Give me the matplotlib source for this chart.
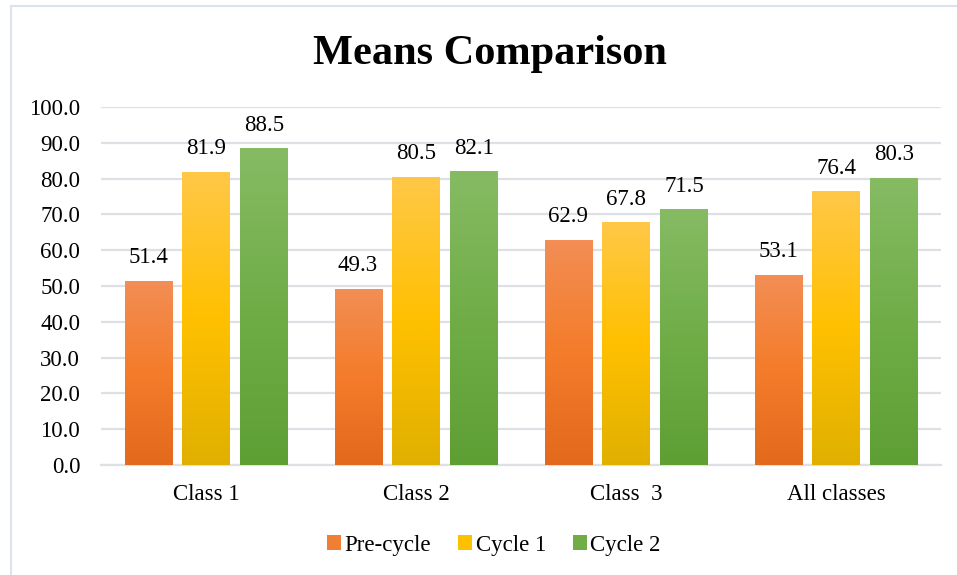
import numpy as np
import matplotlib
matplotlib.use("Agg")
import matplotlib.pyplot as plt
from matplotlib.colors import LinearSegmentedColormap
from matplotlib.patches import Patch
from matplotlib.lines import Line2D

categories = ["Class 1", "Class 2", "Class  3", "All classes"]
series_names = ["Pre-cycle", "Cycle 1", "Cycle 2"]
pre_cycle = [51.4, 49.3, 62.9, 53.1]
cycle_1 = [81.9, 80.5, 67.8, 76.4]
cycle_2 = [88.5, 82.1, 71.5, 80.3]
y_ticks = [0, 10, 20, 30, 40, 50, 60, 70, 80, 90, 100]

# top -> middle -> bottom shades for each series
gradients = [
    ["#F28E55", "#F47C2A", "#E3691D"],
    ["#FFC848", "#FFC000", "#E0B000"],
    ["#86BB64", "#70AD47", "#5E9F34"],
]
solid = ["#F07F35", "#FFC000", "#70AD47"]

plt.rcParams["font.family"] = ["Liberation Serif", "DejaVu Serif"]

fig = plt.figure(figsize=(9.57, 5.75), dpi=100)
ax = fig.add_axes([101 / 957, 1 - 465 / 575, 840 / 957, 358 / 575])

values = [pre_cycle, cycle_1, cycle_2]
x = np.arange(len(categories))
width = 0.224
step = 0.276

ax.set_xlim(-0.5, len(categories) - 0.5)
ax.set_ylim(0, 100)

for i, (vals, cols) in enumerate(zip(values, gradients)):
    cmap = LinearSegmentedColormap.from_list(f"g{i}", cols[::-1])
    grad = np.linspace(0, 1, 256).reshape(-1, 1)
    for xi, v in zip(x, vals):
        left = xi + (i - 1) * step - width / 2
        bars = ax.bar(left, v, width=width, align="edge", color="none",
                      edgecolor="none", zorder=3)
        rect = bars[0]
        im = ax.imshow(grad, cmap=cmap, origin="lower", aspect="auto",
                       extent=(left, left + width, 0, v), zorder=3,
                       interpolation="bilinear")
        im.set_clip_path(rect)
        ax.annotate(f"{v:.1f}", (left + width / 2, v), xytext=(0, 9),
                    textcoords="offset points", ha="center", va="bottom",
                    fontsize=16.5, color="#000000", zorder=4)

ax.set_xlim(-0.5, len(categories) - 0.5)
ax.set_ylim(0, 100)
ax.set_yticks(y_ticks)
ax.set_yticklabels([f"{t:.1f}" for t in y_ticks], fontsize=16.5)
ax.set_xticks(x)
ax.set_xticklabels(categories, fontsize=16.5)
ax.tick_params(axis="both", length=0)
ax.tick_params(axis="y", pad=15)
ax.tick_params(axis="x", pad=14)
ax.grid(axis="y", color="#DDE1E6", linewidth=1.6, zorder=0)
ax.set_axisbelow(True)
for s in ["top", "right", "left"]:
    ax.spines[s].set_visible(False)
ax.spines["bottom"].set_color("#DDE1E6")
ax.spines["bottom"].set_linewidth(1.6)
ax.spines["bottom"].set_zorder(2)

fig.text(490 / 957, 1 - 54 / 575, "Means Comparison", ha="center",
         va="center", fontsize=30.5, fontweight="bold")

handles = [Patch(facecolor=c, edgecolor="none") for c in solid]
fig.legend(handles, series_names, loc="center", bbox_to_anchor=(494 / 957, 1 - 545 / 575),
           ncol=3, frameon=False, fontsize=16.5, handlelength=0.6,
           handleheight=0.6, handletextpad=0.15, columnspacing=1.2)

# chart area outline (left and top edges)
fig.add_artist(Line2D([10.5 / 957, 10.5 / 957], [0, 1 - 5.5 / 575],
                      transform=fig.transFigure, color="#DDE3EA", linewidth=1.5))
fig.add_artist(Line2D([10.5 / 957, 1], [1 - 5.5 / 575, 1 - 5.5 / 575],
                      transform=fig.transFigure, color="#DDE3EA", linewidth=1.5))

fig.savefig("out.png", dpi=100)
